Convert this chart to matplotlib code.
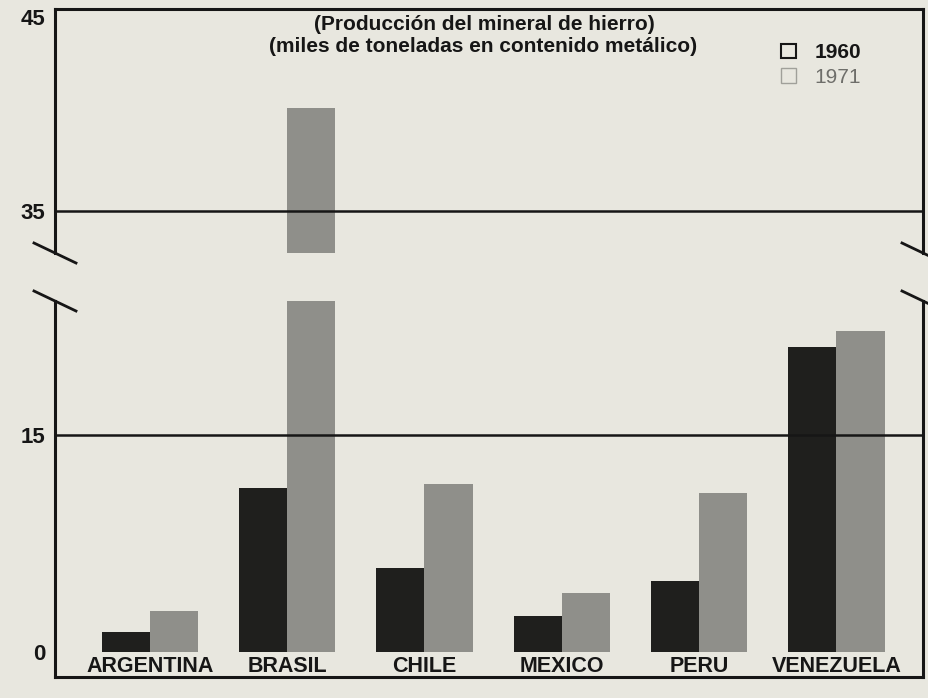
import matplotlib
matplotlib.use("Agg")
import matplotlib.pyplot as plt
from matplotlib.patches import Patch
import numpy as np

plt.rcParams['font.family'] = ['Liberation Sans', 'DejaVu Sans']

# ---- data ----
countries = ["ARGENTINA", "BRASIL", "CHILE", "MEXICO", "PERU", "VENEZUELA"]
prod_1960 = [1.4, 11.3, 5.8, 2.5, 4.9, 21.1]
prod_1971 = [2.8, 40.1, 11.6, 4.1, 11.0, 22.2]
series_labels = ["1960", "1971"]
title_lines = ["(Producción del mineral de hierro)",
               "(miles de toneladas en contenido metálico)"]
lower_ticks = [0, 15]
upper_ticks = [35, 45]

# ---- style ----
BG = "#e8e7df"
INK = "#161616"
C60 = "#1f1f1d"
C71 = "#8f8f8a"

W, H = 929, 698
fig = plt.figure(figsize=(W / 100, H / 100), dpi=100, facecolor=BG)

def fy(px):
    return (H - px) / H

def fx(px):
    return px / W

left_px, right_px = 55, 923
lower_bot_px, lower_top_px = 677, 301
upper_bot_px, upper_top_px = 253, 9

ax_lo = fig.add_axes([fx(left_px), fy(lower_bot_px), fx(right_px - left_px),
                      (lower_bot_px - lower_top_px) / H])
ax_hi = fig.add_axes([fx(left_px), fy(upper_bot_px), fx(right_px - left_px),
                      (upper_bot_px - upper_top_px) / H])

x = np.arange(len(countries))
bw = 0.35
for ax in (ax_lo, ax_hi):
    ax.set_facecolor(BG)
    ax.bar(x - bw / 2, prod_1960, width=bw, color=C60, zorder=2)
    ax.bar(x + bw / 2, prod_1971, width=bw, color=C71, zorder=2)
    ax.set_xlim(-0.69, 5.63)
    for s in ax.spines.values():
        s.set_color(INK)
        s.set_linewidth(2.2)
    ax.tick_params(axis='y', length=0, pad=7)

ax_lo.set_ylim(-1.73, 24.26)
ax_hi.set_ylim(32.95, 45.0)
ax_lo.spines['top'].set_visible(False)
ax_hi.spines['bottom'].set_visible(False)

ax_lo.set_yticks(lower_ticks)
ax_lo.set_yticklabels([str(v) for v in lower_ticks], fontweight='bold', fontsize=16, color=INK)
ax_hi.set_yticks(upper_ticks)
ax_hi.set_yticklabels([str(v) for v in upper_ticks], fontweight='bold', fontsize=16, color=INK)
ax_hi.get_yticklabels()[-1].set_va('top')

ax_hi.set_xticks([])
ax_lo.set_xticks(x)
ax_lo.set_xticklabels(countries, fontweight='bold', fontsize=15.5, color=INK)
ax_lo.tick_params(axis='x', length=0, pad=-15)

# horizontal reference lines
ax_lo.axhline(15, color=INK, lw=1.8, zorder=3)
ax_hi.axhline(35, color=INK, lw=1.8, zorder=3)

# break marks on both spines
def slash(ax, xa, ya, h_px):
    dx = 21 / (right_px - left_px)
    dy = 10 / h_px
    ax.plot([xa - dx, xa + dx], [ya + dy, ya - dy], transform=ax.transAxes,
            color=INK, lw=2, clip_on=False, zorder=5)

h_lo = lower_bot_px - lower_top_px
h_hi = upper_bot_px - upper_top_px
for xa in (0, 1):
    slash(ax_hi, xa, 0, h_hi)
    slash(ax_lo, xa, 1, h_lo)

# title
fig.text(fx(484), fy(25), title_lines[0], ha='center', va='center',
         fontsize=15, fontweight='bold', color=INK)
fig.text(fx(483), fy(46), title_lines[1], ha='center', va='center',
         fontsize=15, fontweight='bold', color=INK)

# legend with hollow squares
handles = [Patch(facecolor='none', edgecolor=INK, linewidth=1.5),
           Patch(facecolor='none', edgecolor='#a0a09a', linewidth=1.0)]
leg = fig.legend(handles, series_labels, loc='upper left',
                 bbox_to_anchor=(fx(771), fy(33)), frameon=False,
                 fontsize=15, handlelength=0.7, handleheight=0.7,
                 handletextpad=0.9, labelspacing=0.25, borderpad=0)
texts = leg.get_texts()
texts[0].set_fontweight('bold')
texts[0].set_color(INK)
texts[1].set_color('#6e6e6a')

fig.savefig("out.png", dpi=100, facecolor=BG)
